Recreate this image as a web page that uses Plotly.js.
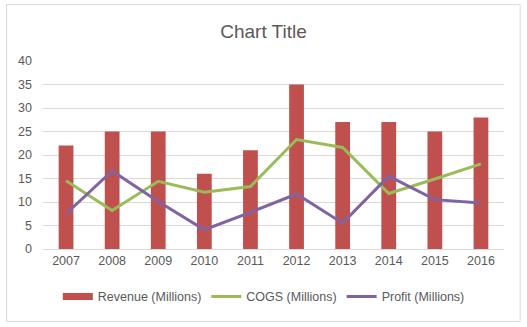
<!DOCTYPE html>
<html><head><meta charset="utf-8">
<script src="https://cdn.plot.ly/plotly-3.0.1.min.js"></script>
<style>html,body{margin:0;padding:0;background:#fff}#c{width:527px;height:327px}</style>
</head><body><div id="c"></div>
<script>
const years = ['2007','2008','2009','2010','2011','2012','2013','2014','2015','2016'];
const revenue = [22, 25, 25, 16, 21, 35, 27, 27, 25, 28];
const cogs = [14.5, 8.2, 14.4, 12.1, 13.3, 23.3, 21.6, 11.8, 14.9, 18.1];
const profit = [7.5, 16.6, 10.1, 4.1, 7.8, 11.7, 5.5, 15.5, 10.5, 9.8];
const yTicks = [0, 5, 10, 15, 20, 25, 30, 35, 40];

const font = "'Liberation Sans', 'DejaVu Sans', sans-serif";
const data = [
  {type:'bar', name:'Revenue (Millions)', x:years, y:revenue, marker:{color:'#C0504D'}, showlegend:false},
  // legend-only entry giving the wide rectangular swatch for the bar series
  {type:'scatter', mode:'lines', name:'Revenue (Millions)', x:[null], y:[null], line:{color:'#C0504D', width:7}, hoverinfo:'skip'},
  {type:'scatter', mode:'lines', name:'COGS (Millions)', x:years, y:cogs, line:{color:'#9BBB59', width:3}},
  {type:'scatter', mode:'lines', name:'Profit (Millions)', x:years, y:profit, line:{color:'#8064A2', width:3}}
];
const layout = {
  width:527, height:327,
  margin:{l:43, r:23, t:61, b:78},
  paper_bgcolor:'#fff', plot_bgcolor:'#fff',
  font:{family:font, color:'#595959', size:12},
  title:{text:'Chart Title', font:{size:19, color:'#595959', family:font}, x:0.5, xanchor:'center', y:0.905, yanchor:'middle'},
  bargap:0.68,
  showlegend:true,
  legend:{orientation:'h', x:0.479, xanchor:'center', y:-0.254, yanchor:'middle', font:{size:12.5, color:'#595959'}, traceorder:'normal', itemwidth:30, tracegroupgap:0},
  xaxis:{type:'category', showgrid:false, showline:true, linecolor:'#D9D9D9', linewidth:1, ticks:'', tickfont:{size:12.5, color:'#595959'}, fixedrange:true},
  yaxis:{range:[0,40], tickvals:yTicks, showgrid:true, gridcolor:'#D9D9D9', gridwidth:1, zeroline:false, ticks:'', ticklabelstandoff:10, tickfont:{size:12.5, color:'#595959'}, fixedrange:true},
  shapes:[{type:'rect', xref:'paper', yref:'paper', x0:-0.079, x1:1.035, y0:-0.385, y1:1.30, line:{color:'#D9D9D9', width:1}, fillcolor:'rgba(0,0,0,0)', layer:'below'}]
};
Plotly.newPlot('c', data, layout, {displayModeBar:false, staticPlot:true});
</script></body></html>
